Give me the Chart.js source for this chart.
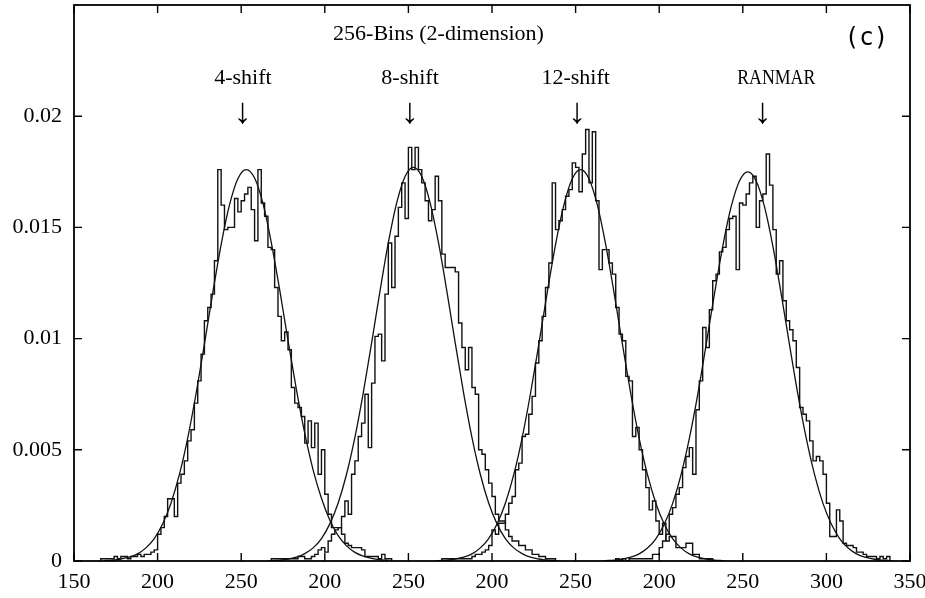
<!DOCTYPE html>
<html>
<head>
<meta charset="utf-8">
<title>256-Bins (2-dimension)</title>
<script src="https://cdn.jsdelivr.net/npm/chart.js@4.4.1/dist/chart.umd.min.js"></script>
<style>
  html, body { margin: 0; padding: 0; background: #fff; }
  #wrap { width: 925px; height: 598px; }
</style>
</head>
<body>
<div id="wrap"><canvas id="chart" width="925" height="598"></canvas></div>
<script>
// Axe commun 0..500 : chaque histogramme est decale, les etiquettes se repetent
const X_TICK_VALUES = [0, 50, 100, 150, 200, 250, 300, 350, 400, 450, 500];
const X_TICK_LABELS = ['150', '200', '250', '200', '250', '200', '250', '200', '250', '300', '350'];
const Y_TICK_VALUES = [0, 0.005, 0.01, 0.015, 0.02];
const Y_TICK_LABELS = ['0', '0.005', '0.01', '0.015', '0.02'];

const SERIES_NAMES = ['4-shift', '8-shift', '12-shift', 'RANMAR'];
const SERIES_OFFSETS = [-150, -50, 50, 150];
const ARROW_AT = [251, 251, 251, 262];   // position de la fleche, en unites propres a chaque serie
const NAME_AT = [251, 251, 250, 270];

const BIN_START = 166;
const BIN_WIDTH = 2;

const HIST_4SHIFT = [
  .0001, .0001, .0001, .0001, .0002, .0001, .0002, .0002, .0001, .0002,
  .0002, .0003, .0002, .0003, .0003, .0004, .0005, .0012, .0015, .0020,
  .0028, .0028, .0020, .0035, .0039, .0045, .0054, .0059, .0071, .0081,
  .0093, .0108, .0114, .0120, .0135, .0176, .0160, .0149, .0150, .0150,
  .0163, .0157, .0162, .0165, .0168, .0158, .0144, .0176, .0161, .0155,
  .0141, .0140, .0123, .0110, .0099, .0103, .0095, .0078, .0071, .0069,
  .0065, .0053, .0063, .0051, .0062, .0039, .0050, .0030, .0021, .0015,
  .0015, .0015, .0012, .0008, .0007, .0006, .0006, .0006, .0005, .0002,
  .0002, .0002, .0002, .0001, .0003, .0001, .0001
];
const HIST_8SHIFT = [
  0, .0001, .0001, .0001, .0001, .0001, .0001, .0001, .0001, .0002,
  .0002, .0001, .0001, .0002, .0003, .0005, .0006, .0004, .0009, .0012,
  .0014, .0015, .0020, .0027, .0021, .0039, .0045, .0056, .0062, .0075,
  .0051, .0080, .0101, .0102, .0090, .0120, .0143, .0123, .0146, .0159,
  .0170, .0154, .0186, .0176, .0186, .0176, .0170, .0162, .0153, .0158,
  .0173, .0162, .0138, .0132, .0132, .0132, .0130, .0107, .0096, .0086,
  .0096, .0078, .0075, .0050, .0048, .0041, .0035, .0029, .0021, .0018,
  .0018, .0014, .0011, .0009, .0009, .0007, .0007, .0005, .0005, .0003,
  .0003, .0002, .0002, .0001, .0001, .0001, 0
];
const HIST_12SHIFT = [
  0, 0, .0001, .0001, .0001, .0001, .0001, .0001, .0001, .0001,
  .0001, .0002, .0003, .0003, .0004, .0005, .0007, .0014, .0012, .0017,
  .0017, .0021, .0026, .0029, .0041, .0044, .0056, .0057, .0066, .0074,
  .0089, .0099, .0110, .0123, .0134, .0170, .0149, .0153, .0158, .0164,
  .0167, .0179, .0177, .0166, .0183, .0194, .0170, .0193, .0162, .0131,
  .0140, .0140, .0134, .0129, .0114, .0102, .0099, .0083, .0081, .0056,
  .0060, .0050, .0041, .0033, .0023, .0027, .0018, .0012, .0017, .0009,
  .0011, .0011, .0006, .0006, .0006, .0008, .0008, .0003, .0003, .0001,
  .0001, .0001, .0001, 0, 0, 0, 0
];
const HIST_RANMAR = [
  0, 0, 0, 0, .0001, 0, .0001, 0, .0001, .0001,
  .0001, .0001, .0001, .0001, .0001, .0003, .0003, .0006, .0009, .0012,
  .0021, .0024, .0030, .0033, .0042, .0047, .0051, .0039, .0068, .0081,
  .0105, .0096, .0113, .0126, .0129, .0139, .0141, .0149, .0154, .0155,
  .0131, .0161, .0160, .0165, .0170, .0173, .0150, .0162, .0165, .0183,
  .0169, .0149, .0129, .0135, .0117, .0108, .0104, .0099, .0087, .0069,
  .0066, .0063, .0054, .0045, .0047, .0045, .0039, .0026, .0011, .0011,
  .0023, .0018, .0008, .0007, .0007, .0006, .0004, .0004, .0003, .0002,
  .0002, .0002, .0001, .0002, .0001, .0002, 0
];

// Courbes ajustees, lues tous les 5 unites
const CURVE_X = [
  168, 173, 178, 183, 188, 193, 198, 203, 208, 213, 218, 223, 228, 233, 238, 243, 248,
  253, 258, 263, 268, 273, 278, 283, 288, 293, 298, 303, 308, 313, 318, 323, 328, 333, 338
];
const FIT_4SHIFT = [
  .00002, .00004, .00009, .00017, .00032, .00059, .00101, .00166, .00260, .00388, .00553, .00752, .00975, .01206, .01423, .01601, .01719,
  .01760, .01722, .01608, .01432, .01220, .00992, .00772, .00575, .00410, .00282, .00183, .00114, .00068, .00039, .00022, .00012, .00006, .00003
];
const FIT_8SHIFT = [
  .00002, .00004, .00009, .00017, .00033, .00059, .00101, .00167, .00261, .00390, .00556, .00756, .00981, .01213, .01431, .01610, .01729,
  .01770, .01729, .01610, .01431, .01213, .00981, .00756, .00556, .00390, .00261, .00167, .00101, .00059, .00033, .00017, .00009, .00004, .00002
];
const FIT_12SHIFT = [
  .00002, .00004, .00009, .00017, .00032, .00059, .00101, .00166, .00260, .00388, .00553, .00752, .00975, .01206, .01423, .01601, .01719,
  .01760, .01719, .01601, .01423, .01206, .00975, .00752, .00553, .00388, .00260, .00166, .00101, .00059, .00032, .00017, .00009, .00004, .00002
];
const FIT_RANMAR = [
  .00002, .00004, .00009, .00017, .00032, .00058, .00100, .00165, .00258, .00386, .00550, .00747, .00970, .01199, .01415, .01592, .01709,
  .01750, .01709, .01592, .01415, .01199, .00970, .00747, .00550, .00386, .00258, .00165, .00100, .00058, .00032, .00017, .00009, .00004, .00002
];

const HISTS = [HIST_4SHIFT, HIST_8SHIFT, HIST_12SHIFT, HIST_RANMAR];
const FITS = [FIT_4SHIFT, FIT_8SHIFT, FIT_12SHIFT, FIT_RANMAR];

const SERIF = "'Liberation Serif', 'Times New Roman', serif";

function histPoints(values, offset) {
  const pts = [{ x: BIN_START + offset, y: 0 }];
  values.forEach((v, i) => pts.push({ x: BIN_START + i * BIN_WIDTH + offset, y: v }));
  const end = BIN_START + values.length * BIN_WIDTH + offset;
  pts.push({ x: end, y: values[values.length - 1] });
  pts.push({ x: end, y: 0 });
  return pts;
}

function curvePoints(values, offset) {
  return CURVE_X.map((cx, i) => ({ x: cx + offset, y: values[i] }));
}

const datasets = [];
HISTS.forEach((h, k) => {
  datasets.push({
    label: SERIES_NAMES[k],
    data: histPoints(h, SERIES_OFFSETS[k]),
    stepped: 'before',
    borderColor: '#111',
    borderWidth: 1.4,
    pointRadius: 0,
    fill: false,
  });
});
FITS.forEach((f, k) => {
  datasets.push({
    label: SERIES_NAMES[k] + ' fit',
    data: curvePoints(f, SERIES_OFFSETS[k]),
    cubicInterpolationMode: 'monotone',
    borderColor: '#111',
    borderWidth: 1.3,
    pointRadius: 0,
    fill: false,
  });
});

// Cadre, graduations interieures et textes
const framePlugin = {
  id: 'frame',
  afterDatasetsDraw(chart) {
    const { ctx, chartArea: a, scales: { x, y } } = chart;
    ctx.save();
    ctx.strokeStyle = '#000';
    ctx.lineWidth = 1.8;
    ctx.strokeRect(a.left, a.top, a.right - a.left, a.bottom - a.top);

    ctx.lineWidth = 1.4;
    ctx.beginPath();
    X_TICK_VALUES.forEach(v => {
      const px = x.getPixelForValue(v);
      ctx.moveTo(px, a.bottom); ctx.lineTo(px, a.bottom - 8);
      ctx.moveTo(px, a.top); ctx.lineTo(px, a.top + 8);
    });
    Y_TICK_VALUES.forEach(v => {
      const py = y.getPixelForValue(v);
      ctx.moveTo(a.left, py); ctx.lineTo(a.left + 8, py);
      ctx.moveTo(a.right, py); ctx.lineTo(a.right - 8, py);
    });
    ctx.stroke();

    ctx.fillStyle = '#000';
    ctx.textAlign = 'center';
    ctx.textBaseline = 'middle';
    ctx.font = '22px ' + SERIF;
    ctx.fillText('256-Bins (2-dimension)', x.getPixelForValue(218), a.top + 29);

    SERIES_NAMES.forEach((name, k) => {
      const nx = x.getPixelForValue(NAME_AT[k] + SERIES_OFFSETS[k]);
      if (name === 'RANMAR') ctx.fillText(name, nx, a.top + 73, 78);
      else ctx.fillText(name, nx, a.top + 73);
    });

    ctx.font = "36px " + SERIF + ", 'DejaVu Sans'";
    SERIES_NAMES.forEach((name, k) => {
      ctx.fillText('\u2193', x.getPixelForValue(ARROW_AT[k] + SERIES_OFFSETS[k]), a.top + 109);
    });

    ctx.font = "24px 'DejaVu Sans Mono', monospace";
    ctx.fillText('(c)', x.getPixelForValue(474), a.top + 34);
    ctx.restore();
  }
};

new Chart(document.getElementById('chart'), {
  type: 'line',
  data: { datasets },
  options: {
    responsive: false,
    animation: false,
    layout: { padding: { top: 5, right: 15, left: 0, bottom: 0 } },
    plugins: { legend: { display: false }, tooltip: { enabled: false } },
    scales: {
      x: {
        type: 'linear',
        min: 0,
        max: 500,
        afterBuildTicks: axis => { axis.ticks = X_TICK_VALUES.map(v => ({ value: v })); },
        afterFit: s => {
          s.height = 37;
          s.paddingLeft = 0; s.paddingRight = 0; s.paddingTop = 0; s.paddingBottom = 0;
        },
        ticks: {
          callback: (v, i) => X_TICK_LABELS[i],
          color: '#000',
          font: { family: SERIF, size: 22 },
          padding: 8,
          maxRotation: 0,
          autoSkip: false,
        },
        grid: { display: false, drawTicks: false },
        border: { display: false },
      },
      y: {
        min: 0,
        max: 0.025,
        afterBuildTicks: axis => { axis.ticks = Y_TICK_VALUES.map(v => ({ value: v })); },
        afterFit: s => {
          s.width = 74;
          s.paddingLeft = 0; s.paddingRight = 0; s.paddingTop = 0; s.paddingBottom = 0;
        },
        ticks: {
          callback: (v, i) => Y_TICK_LABELS[i],
          color: '#000',
          font: { family: SERIF, size: 22 },
          padding: 12,
        },
        grid: { display: false, drawTicks: false },
        border: { display: false },
      }
    }
  },
  plugins: [framePlugin]
});
</script>
</body>
</html>
